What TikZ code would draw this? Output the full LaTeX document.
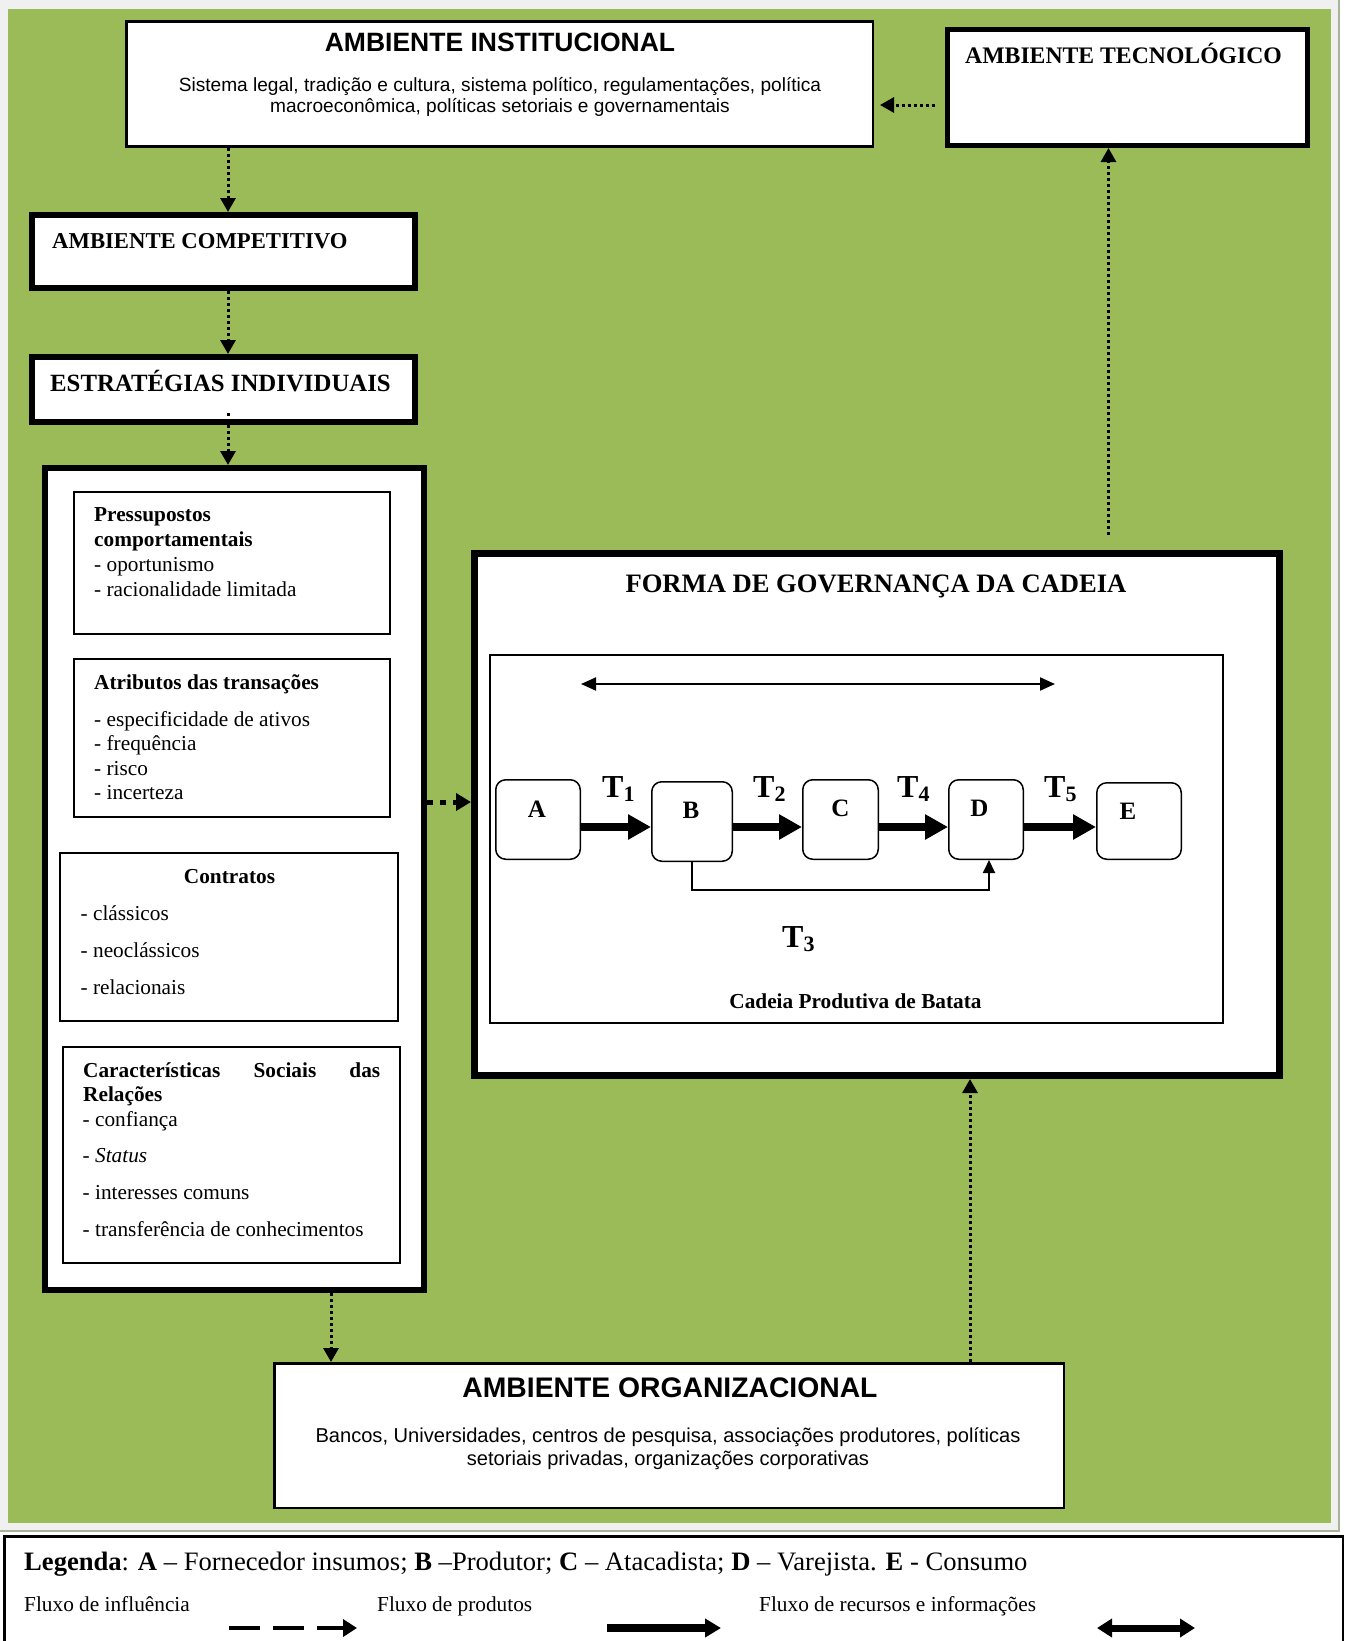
\documentclass[tikz,border=0pt]{standalone}
\usepackage{fontspec}
\setmainfont{Liberation Serif}
\newfontfamily\arial{Liberation Sans}
\usetikzlibrary{arrows.meta}
\definecolor{verde}{HTML}{9BBB59}
\definecolor{moldura}{HTML}{F0F0F0}
\definecolor{filete}{HTML}{A8B39A}
\newcommand{\tam}[1]{\fontsize{#1}{#1}\selectfont}
\newcommand{\tr}[1]{{\tam{32}T}\raisebox{-4.5pt}{\tam{22}#1}}

\begin{document}
\begin{tikzpicture}[x=1pt, y=-1pt,
  caixa/.style={draw, line width=2pt, fill=white, inner sep=0pt},
  caixagrossa/.style={draw, line width=6pt, fill=white, inner sep=0pt},
  elo/.style={draw, line width=1.5pt, fill=white, rounded corners=10pt, inner sep=0pt},
  letra/.style={anchor=base, inner sep=0pt, font=\bfseries\tam{25}},
  titulo/.style={anchor=base west, inner sep=0pt, font=\bfseries\tam{23.7}},
  texto/.style={anchor=base west, inner sep=0pt, font=\tam{21.3}},
  tarial/.style={anchor=base, inner sep=0pt, font=\arial\tam{19.1}},
  influencia/.style={line width=3pt, dash pattern=on 3pt off 3pt, -{Triangle[length=14pt, width=15pt]}},
  produto/.style={line width=8pt, -{Triangle[length=23pt, width=24pt]}},
  recurso/.style={line width=2pt, {Triangle[length=15pt, width=13pt]}-{Triangle[length=15pt, width=13pt]}}
]
\useasboundingbox (0,0) rectangle (1351,1641);
\fill[white] (0,0) rectangle (1351,1641);
\fill[moldura] (0,0) rectangle (1339,1531);
\draw[filete, line width=1.5pt] (1339,0) -- (1339,1531) -- (0,1531);
\fill[verde] (8,9) rectangle (1331,1523);

% ambientes
\node[caixa, line width=2.5pt, minimum width=746.5pt, minimum height=125pt] (inst) at (499.5,84) {};
\node[anchor=base, inner sep=0pt, font=\arial\bfseries\tam{26.5}] (insttit) at (500,51) {AMBIENTE INSTITUCIONAL};
\node[tarial] (inst1) at (500,91) {Sistema legal, tradição e cultura, sistema político, regulamentações, política};
\node[tarial] (inst2) at (500,112) {macroeconômica, políticas setoriais e governamentais};

\node[caixagrossa, line width=5pt, minimum width=360pt, minimum height=116pt] (tec) at (1127.5,87.5) {};
\node[titulo] (tectit) at (965,63) {AMBIENTE TECNOLÓGICO};

\node[caixagrossa, minimum width=383pt, minimum height=73pt] (comp) at (223,251.5) {};
\node[titulo, font=\bfseries\tam{22.7}] (comptit) at (52,248) {AMBIENTE COMPETITIVO};

\node[caixagrossa, minimum width=383pt, minimum height=65pt] (estr) at (223,389.5) {};
\node[titulo, font=\bfseries\tam{24.8}] (estrtit) at (50,391) {ESTRATÉGIAS INDIVIDUAIS};

% fatores das transacoes
\node[caixagrossa, minimum width=379pt, minimum height=822pt] (fatores) at (234.5,879) {};

\node[caixa, minimum width=316pt, minimum height=142pt] (pres) at (232,563) {};
\node[texto, font=\bfseries\tam{21.3}] (pres1) at (94,521.5) {Pressupostos};
\node[texto, font=\bfseries\tam{21.3}] (pres2) at (94,546.5) {comportamentais};
\node[texto] (pres3) at (94,571.5) {- oportunismo};
\node[texto] (pres4) at (94,596.5) {- racionalidade limitada};

\node[caixa, minimum width=316pt, minimum height=158pt] (atri) at (232,738) {};
\node[texto, font=\bfseries\tam{21.3}] (atritit) at (94,689) {Atributos das transações};
\foreach \linha [count=\i] in {- especificidade de ativos, - frequência, - risco, - incerteza}
  \node[texto] (atri\i) at (94,701.5+24.5*\i) {\linha};

\node[caixa, minimum width=338pt, minimum height=168pt] (cont) at (229,937) {};
\node[anchor=base, inner sep=0pt, font=\bfseries\tam{21.3}] (conttit) at (229.5,883) {Contratos};
\foreach \linha [count=\i] in {- clássicos, - neoclássicos, - relacionais}
  \node[texto] (cont\i) at (80.5,884+36.8*\i) {\linha};

\node[caixa, minimum width=337pt, minimum height=216pt] (soc) at (231.5,1155) {};
\node[texto, font=\bfseries\tam{21.3}] (soctit) at (83,1077) {\hbox to 297pt{Características\hfill Sociais\hfill das}};
\node[texto, font=\bfseries\tam{21.3}] (soctit2) at (83,1101.5) {Relações};
\foreach \linha [count=\i] in {- confiança, - \textit{Status}, - interesses comuns, - transferência de conhecimentos}
  \node[texto] (soc\i) at (82.5,1089.5+36.7*\i) {\linha};

% governanca
\node[caixagrossa, line width=7pt, minimum width=805pt, minimum height=522pt] (forma) at (877,814.5) {};
\node[anchor=base, inner sep=0pt, font=\bfseries\tam{26.6}] (formatit) at (876,592) {FORMA DE GOVERNANÇA DA CADEIA};
\node[caixa, minimum width=733pt, minimum height=368pt] (cadeia) at (856.5,839) {};
\node[anchor=base, inner sep=0pt, font=\bfseries\tam{21.3}] (cadeiatit) at (855.5,1008) {Cadeia Produtiva de Batata};

\coordinate (r0) at (581,684);
\coordinate (r1) at (1055,684);
\draw[recurso] (r0) -- (r1);

\node[elo, minimum width=84.5pt, minimum height=79.5pt] (a) at (538,819.5) {};
\node[elo, minimum width=80.5pt, minimum height=79.5pt] (b) at (692,821.5) {};
\node[elo, minimum width=75.5pt, minimum height=79.5pt] (c) at (840.5,819.5) {};
\node[elo, minimum width=74.5pt, minimum height=79.5pt] (d) at (986,819.5) {};
\node[elo, minimum width=84.5pt, minimum height=76.5pt] (e) at (1139,821) {};
\node[letra] (la) at (537,817) {A};
\node[letra] (lb) at (691,818) {B};
\node[letra] (lc) at (840.5,816) {C};
\node[letra] (ld) at (979.5,816) {D};
\node[letra] (le) at (1128,819) {E};

\coordinate (fluxo) at (0,827);
\foreach \u/\v in {a/b, b/c, c/d, d/e}
  \draw[produto] (\u.east |- fluxo) -- (\v.west |- fluxo);

\node[anchor=base west, inner sep=0pt, font=\bfseries] (t1) at (602,797) {\tr{1}};
\node[anchor=base west, inner sep=0pt, font=\bfseries] (t2) at (753,797) {\tr{2}};
\node[anchor=base west, inner sep=0pt, font=\bfseries] (t4) at (897,797) {\tr{4}};
\node[anchor=base west, inner sep=0pt, font=\bfseries] (t5) at (1044,797) {\tr{5}};
\node[anchor=base west, inner sep=0pt, font=\bfseries] (t3) at (782,947) {\tr{3}};

\coordinate (lig) at (0,890);
\coordinate (dchega) at (989,0);
\draw[line width=2pt, -{Triangle[length=13pt, width=12pt]}] (b.south) -- (b.south |- lig) -- (dchega |- lig) -- (dchega |- d.south);

% ambiente organizacional
\node[caixa, line width=2.5pt, minimum width=789.5pt, minimum height=144.5pt] (org) at (669,1435.5) {};
\node[anchor=base, inner sep=0pt, font=\arial\bfseries\tam{28.3}] (orgtit) at (670,1397) {AMBIENTE ORGANIZACIONAL};
\node[tarial, font=\arial\tam{20.1}] (org1) at (668,1442) {Bancos, Universidades, centros de pesquisa, associações produtores, políticas};
\node[tarial, font=\arial\tam{20.1}] (org2) at (668,1465) {setoriais privadas, organizações corporativas};

% fluxos de influencia
\coordinate (eixo) at (228,0);
\draw[influencia] (inst.south -| eixo) -- (comp.north -| eixo);
\draw[influencia] (comp.south -| eixo) -- (estr.north -| eixo);
\coordinate (e0) at (228,413);
\draw[influencia] (e0) -- (fatores.north -| eixo);
\coordinate (t0) at (934.5,105);
\draw[influencia, shorten >=6pt] (t0) -- (inst.east |- t0);
\coordinate (t1) at (1108.5,535);
\draw[influencia] (t1) -- (tec.south -| t1);
\coordinate (f0) at (0,802);
\draw[influencia, line width=5pt, dash pattern=on 6pt off 7pt, -{Triangle[length=15pt, width=17pt]}] (fatores.east |- f0) -- (forma.west |- f0);
\coordinate (o0) at (331,0);
\draw[influencia] (fatores.south -| o0) -- (org.north -| o0);
\coordinate (o1) at (970,0);
\draw[influencia] (org.north -| o1) -- (forma.south -| o1);

% legenda
\node[caixa, line width=2.5pt, minimum width=1338.5pt, minimum height=200pt] (legenda) at (673.5,1636.25) {};
\node[anchor=base west, inner sep=0pt, font=\tam{26.6}] (leg1) at (24,1570) {\textbf{Legenda}: \textbf{A} – Fornecedor insumos; \textbf{B} –Produtor; \textbf{C} – Atacadista; \textbf{D} – Varejista. \textbf{E} - Consumo};
\node[texto] (leg2) at (24,1611) {Fluxo de influência};
\node[texto] (leg3) at (377,1611) {Fluxo de produtos};
\node[texto] (leg4) at (759,1611) {Fluxo de recursos e informações};

\coordinate (li0) at (229,1628);
\coordinate (li1) at (357,1628);
\draw[line width=3.5pt, dash pattern=on 31pt off 13pt, -{Triangle[length=14pt, width=17pt]}] (li0) -- (li1);
\coordinate (lp0) at (607,1628);
\coordinate (lp1) at (721,1628);
\draw[produto, -{Triangle[length=16pt, width=18pt]}] (lp0) -- (lp1);
\coordinate (lr0) at (1097,1628);
\coordinate (lr1) at (1195,1628);
\draw[line width=7pt, {Triangle[length=15pt, width=18pt]}-{Triangle[length=15pt, width=18pt]}] (lr0) -- (lr1);
\end{tikzpicture}
\end{document}
